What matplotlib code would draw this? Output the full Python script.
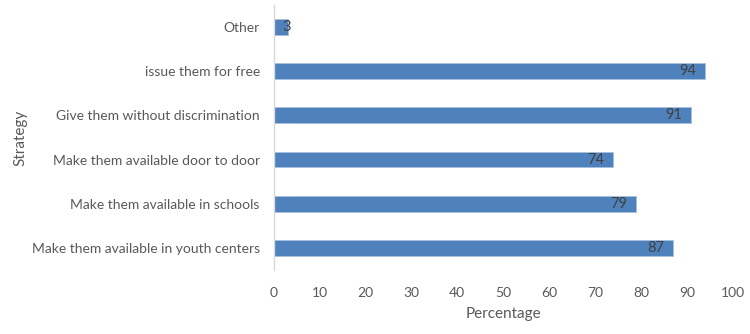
import matplotlib
matplotlib.use("Agg")
import matplotlib.pyplot as plt

strategies = [
    "Make them available in youth centers",
    "Make them available in schools",
    "Make them available door to door",
    "Give them without discrimination",
    "issue them for free",
    "Other",
]
percentages = [87, 79, 74, 91, 94, 3]
x_ticks = [0, 10, 20, 30, 40, 50, 60, 70, 80, 90, 100]

plt.rcParams['font.family'] = ['Lato', 'DejaVu Sans']
text_color = "#595959"

fig = plt.figure(figsize=(7.5, 3.34), dpi=100)
ax = fig.add_axes([0.365, 0.192, 0.612, 0.793])

bars = ax.barh(range(len(strategies)), percentages, height=0.36,
               color="#4F81BD", edgecolor="#A7C0E0", linewidth=0.6)

# value labels just inside the bar end (short bars: keep label clear of the axis)
for i, v in enumerate(percentages):
    ax.text(max(v - 2, 3.8), i, str(v), ha="right", va="center",
            fontsize=10.5, color="#404040")

ax.set_yticks(range(len(strategies)))
ax.set_yticklabels(strategies, fontsize=10, color=text_color)
ax.set_xticks(x_ticks)
ax.set_xticklabels([str(t) for t in x_ticks], fontsize=10, color=text_color)
ax.set_xlim(0, 100)
ax.set_ylim(-0.5, len(strategies) - 0.5)
ax.tick_params(length=0, pad=10)
ax.tick_params(axis="x", pad=12)

for side in ["top", "right", "bottom"]:
    ax.spines[side].set_visible(False)
ax.spines["left"].set_color("#D9D9D9")
ax.spines["left"].set_linewidth(1.0)

ax.set_xlabel("Percentage", fontsize=11, color=text_color, labelpad=6)
ax.set_ylabel("Strategy", fontsize=11, color=text_color)
ax.yaxis.set_label_coords(-0.537, 0.5)

fig.savefig("out.png", dpi=100)
